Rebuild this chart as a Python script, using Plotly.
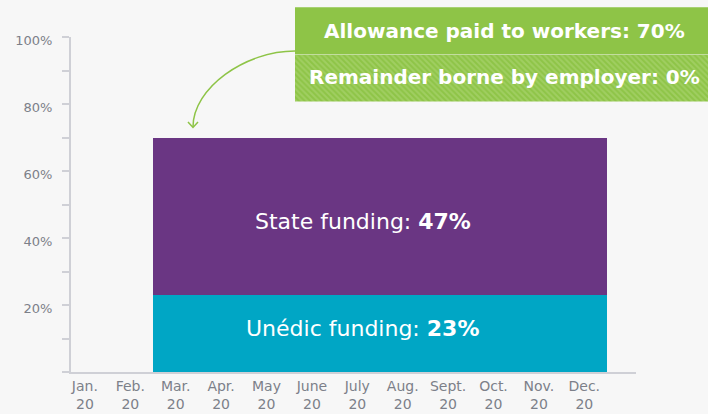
import plotly.graph_objects as go

# ---- data ----
months = ["Jan.", "Feb.", "Mar.", "Apr.", "May", "June", "July", "Aug.", "Sept.", "Oct.", "Nov.", "Dec."]
year_label = "20"
unedic_funding = [None, None, 23, 23, 23, 23, 23, 23, 23, 23, 23, 23]
state_funding = [None, None, 47, 47, 47, 47, 47, 47, 47, 47, 47, 47]
allowance_pct = 70
employer_pct = 0
y_ticks = [20, 40, 60, 80, 100]
y_minor = [0, 10, 30, 50, 70, 90]

W, H = 708, 414
BG = "#f7f7f7"
TEAL = "#00a6c5"
PURPLE = "#6a3683"
GREEN = "#8ec447"
GREEN_LIGHT = "#b2d87c"
GREY_TXT = "#7c8089"
AXIS = "#cfd0d6"
FONT = "DejaVu Sans"

x_idx = list(range(len(months)))

fig = go.Figure()
fig.add_trace(go.Bar(x=x_idx, y=unedic_funding, marker=dict(color=TEAL, line=dict(width=0)),
                     name="Unédic", hoverinfo="skip"))
fig.add_trace(go.Bar(x=x_idx, y=state_funding, marker=dict(color=PURPLE, line=dict(width=0)),
                     name="State", hoverinfo="skip"))

# hatched "remainder" box drawn as a patterned bar on its own small axes
fig.add_trace(go.Bar(x=[0], y=[1], width=[1], xaxis="x2", yaxis="y2",
                     marker=dict(color=GREEN, line=dict(width=0),
                                 pattern=dict(shape="\\", fgcolor=GREEN_LIGHT, bgcolor=GREEN,
                                              size=4, solidity=0.5)),
                     hoverinfo="skip", showlegend=False))

def px(x):
    return x / W

def py(y):
    return 1 - y / H

funded = [i for i, v in enumerate(state_funding) if v]
x_mid = (funded[0] + funded[-1]) / 2
u = unedic_funding[funded[0]]
s = state_funding[funded[0]]

fig.update_layout(
    width=W, height=H,
    margin=dict(l=0, r=0, t=0, b=0, autoexpand=False),
    paper_bgcolor=BG, plot_bgcolor=BG,
    barmode="stack", bargap=0, showlegend=False,
    font=dict(family=FONT, color=GREY_TXT),
    xaxis=dict(domain=[px(71), px(636)], range=[-0.306, 12.139],
               tickvals=x_idx, ticktext=[f"{m}<br>{year_label}" for m in months],
               tickfont=dict(size=14, color=GREY_TXT), ticks="",
               showline=True, linecolor=AXIS, linewidth=2, showgrid=False, zeroline=False,
               fixedrange=True),
    yaxis=dict(domain=[py(372), py(37)], range=[0, 100],
               tickvals=y_ticks, ticktext=[f"{v}%" for v in y_ticks],
               tickfont=dict(size=13, color=GREY_TXT), ticks="outside", ticklen=7,
               tickcolor=AXIS, tickwidth=1.5, ticklabelstandoff=7, ticklabelshift=3,
               minor=dict(tickvals=y_minor, ticks="outside", ticklen=7, tickcolor=AXIS, tickwidth=1.5),
               showline=True, linecolor=AXIS, linewidth=2, showgrid=False, zeroline=False,
               fixedrange=True),
    xaxis2=dict(domain=[px(295), 1], range=[-0.5, 0.5], anchor="y2", visible=False, fixedrange=True),
    yaxis2=dict(domain=[py(101.5), py(54.5)], range=[0, 1], anchor="x2", visible=False, fixedrange=True),
)

# solid top box
fig.add_shape(type="rect", xref="paper", yref="paper",
              x0=px(295), x1=1, y0=py(54.5), y1=py(7.3),
              fillcolor=GREEN, line=dict(width=0), layer="above")

# curved arrow
fig.add_shape(type="path", xref="paper", yref="paper",
              path=f"M {px(295)},{py(51)} C {px(245)},{py(51)} {px(193)},{py(88)} {px(193)},{py(127)}",
              line=dict(color=GREEN, width=1.5))
fig.add_shape(type="path", xref="paper", yref="paper",
              path=f"M {px(188)},{py(122)} L {px(193)},{py(127.5)} L {px(198)},{py(122)}",
              line=dict(color=GREEN, width=1.5))

# box texts
fig.add_annotation(xref="paper", yref="paper", x=px(504), y=py(31), showarrow=False,
                   xanchor="center", yanchor="middle",
                   text=f"Allowance paid to workers: {allowance_pct}%",
                   font=dict(family=FONT, size=20, color="white", weight=700))
fig.add_annotation(xref="paper", yref="paper", x=px(504), y=py(77), showarrow=False,
                   xanchor="center", yanchor="middle",
                   text=f"Remainder borne by employer: {employer_pct}%",
                   font=dict(family=FONT, size=20, color="white", weight=700))

# bar texts
fig.add_annotation(x=x_mid, y=u + s / 2, showarrow=False, xshift=-17, yshift=-5,
                   text=f"State funding: <b>{s}%</b>",
                   font=dict(family=FONT, size=22, color="white"))
fig.add_annotation(x=x_mid, y=u / 2, showarrow=False, xshift=-17, yshift=5,
                   text=f"Unédic funding: <b>{u}%</b>",
                   font=dict(family=FONT, size=22, color="white"))

fig.write_html("out.html", config={"displayModeBar": False},
               post_script="document.body.style.margin='0';document.body.style.overflow='hidden';")
